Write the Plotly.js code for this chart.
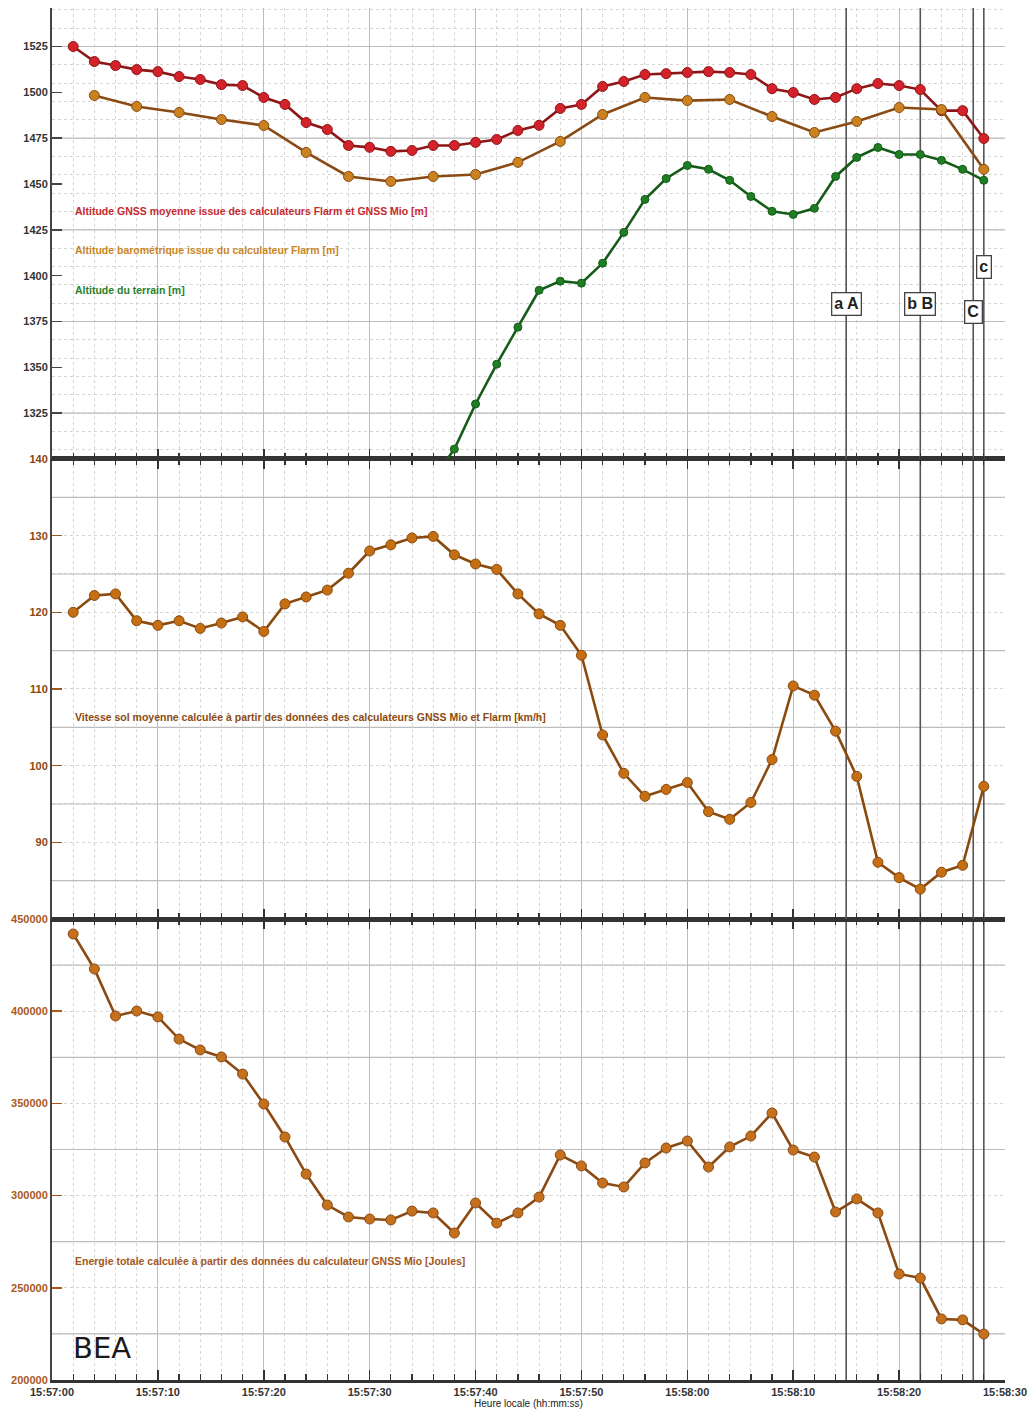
<!DOCTYPE html>
<html>
<head>
<meta charset="utf-8">
<script src="https://cdn.plot.ly/plotly-3.0.1.min.js"></script>
<style>
  html, body { margin: 0; padding: 0; background: #ffffff; }
  #chart { width: 1035px; height: 1409px; }
</style>
</head>
<body>
<div id="chart"></div>
<script>
// ---- Data ----
const times2s = ['15:57:02','15:57:04','15:57:06','15:57:08','15:57:10','15:57:12','15:57:14','15:57:16','15:57:18','15:57:20',
  '15:57:22','15:57:24','15:57:26','15:57:28','15:57:30','15:57:32','15:57:34','15:57:36','15:57:38','15:57:40',
  '15:57:42','15:57:44','15:57:46','15:57:48','15:57:50','15:57:52','15:57:54','15:57:56','15:57:58','15:58:00',
  '15:58:02','15:58:04','15:58:06','15:58:08','15:58:10','15:58:12','15:58:14','15:58:16','15:58:18','15:58:20',
  '15:58:22','15:58:24','15:58:26','15:58:28'];

const altGnss = [1525, 1516.8, 1514.6, 1512.4, 1511.3, 1508.6, 1507, 1504.2, 1503.7, 1497.2,
  1493.4, 1483.5, 1479.7, 1471, 1470, 1467.8, 1468.3, 1471, 1471, 1472.7,
  1474.3, 1479.2, 1482, 1491.2, 1493.4, 1503.2, 1505.9, 1509.7, 1510.2, 1510.8,
  1511.3, 1510.8, 1509.7, 1502, 1499.9, 1496.1, 1497.2, 1502, 1504.8, 1503.7,
  1501.5, 1490, 1490, 1474.8];

const timesBaro = ['15:57:04','15:57:08','15:57:12','15:57:16','15:57:20','15:57:24','15:57:28','15:57:32','15:57:36','15:57:40',
  '15:57:44','15:57:48','15:57:52','15:57:56','15:58:00','15:58:04','15:58:08','15:58:12','15:58:16','15:58:20',
  '15:58:24','15:58:28'];
const altBaro = [1498.3, 1492.3, 1489, 1485.2, 1481.9, 1467.2, 1454.1, 1451.4, 1454.1, 1455.2,
  1461.8, 1473.2, 1487.9, 1497.2, 1495.5, 1496.1, 1486.8, 1478.1, 1484.1, 1491.7,
  1490.6, 1458];

const timesTerrain = ['15:57:36','15:57:38','15:57:40','15:57:42','15:57:44','15:57:46','15:57:48','15:57:50','15:57:52','15:57:54',
  '15:57:56','15:57:58','15:58:00','15:58:02','15:58:04','15:58:06','15:58:08','15:58:10','15:58:12','15:58:14',
  '15:58:16','15:58:18','15:58:20','15:58:22','15:58:24','15:58:26','15:58:28'];
const altTerrain = [1289, 1305.4, 1330, 1351.7, 1371.9, 1392, 1397, 1395.9, 1406.8, 1423.6,
  1441.6, 1453, 1460.1, 1458, 1452, 1443.2, 1435.1, 1433.4, 1436.7, 1454.1,
  1464.5, 1469.9, 1466.1, 1466.1, 1462.9, 1458, 1452];

const speed = [120.0, 122.2, 122.4, 118.9, 118.3, 118.9, 117.9, 118.6, 119.4, 117.5,
  121.1, 122.0, 122.9, 125.1, 128.0, 128.8, 129.7, 129.9, 127.5, 126.3,
  125.6, 122.4, 119.8, 118.3, 114.4, 104.0, 99.0, 96.0, 96.9, 97.8,
  94.0, 93.0, 95.2, 100.8, 110.4, 109.2, 104.5, 98.6, 87.4, 85.4,
  83.9, 86.1, 87.0, 97.3];

const energy = [441900, 422900, 397400, 400100, 396900, 384900, 379000, 375200, 365900, 349700,
  331800, 311700, 294900, 288400, 287300, 286800, 291600, 290600, 279700, 296000,
  285100, 290600, 299200, 322000, 316100, 306800, 304700, 317700, 325800, 329600,
  315500, 326400, 332300, 344800, 324700, 320900, 291100, 298200, 290600, 257500,
  255300, 233100, 232600, 224900];

const eventTimes  = ['15:58:15', '15:58:22', '15:58:27', '15:58:28'];
const eventLabels = ['a A', 'b B', 'C', 'c'];

const seriesNames = {
  gnss: 'Altitude GNSS moyenne issue des calculateurs Flarm et GNSS Mio [m]',
  baro: 'Altitude barométrique issue du calculateur Flarm [m]',
  terrain: 'Altitude du terrain [m]',
  speed: 'Vitesse sol moyenne calculée à partir des données des calculateurs GNSS Mio et Flarm [km/h]',
  energy: 'Energie totale calculée à partir des données du calculateur GNSS Mio [Joules]'
};

const xRange = ['15:57:00', '15:58:30'];
const topRange = [1300, 1546];
const midRange = [80, 140];
const botRange = [200000, 450000];
const topTicks = [1325, 1350, 1375, 1400, 1425, 1450, 1475, 1500, 1525];
const midTicks = [90, 100, 110, 120, 130, 140];
const botTicks = [200000, 250000, 300000, 350000, 400000, 450000];

// ---- helpers ----
const D = t => '2000-01-01 ' + t;
const FONT = '"Liberation Sans", Arial, sans-serif';

const C = {
  red: '#d3222a', redLine: '#8e1616', redText: '#c62a2f',
  baro: '#c9821f', baroLine: '#8a4a14', baroText: '#c8861f',
  green: '#1f7d24', greenLine: '#165c18', greenText: '#2a7f2a',
  sp: '#c56f12', spLine: '#8a4a0e', spText: '#8b4a10',
  en: '#c4701c', enLine: '#8a4a14', enText: '#a4561c'
};

function tr(x, y, xa, ya, mc, lc, ms, name) {
  return {
    x: x.map(D), y: y, xaxis: xa, yaxis: ya, name: name,
    type: 'scatter', mode: 'lines+markers',
    line: { color: lc, width: 2.6 },
    marker: { color: mc, size: ms, line: { color: lc, width: 1 } },
    hoverinfo: 'x+y'
  };
}

const traces = [
  tr(times2s, altGnss, 'x3', 'y3', C.red, C.redLine, 10, seriesNames.gnss),
  tr(timesBaro, altBaro, 'x3', 'y3', C.baro, C.baroLine, 10, seriesNames.baro),
  tr(timesTerrain, altTerrain, 'x3', 'y3', C.green, C.greenLine, 8, seriesNames.terrain),
  tr(times2s, speed, 'x2', 'y2', C.sp, C.spLine, 10, seriesNames.speed),
  tr(times2s, energy, 'x', 'y', C.en, C.enLine, 10, seriesNames.energy)
];

const domBot = [0, 0.336];
const domMid = [0.336, 0.6713];
const domTop = [0.6713, 1];

function xAxis(anchor, showLabels, mirror) {
  return {
    type: 'date', anchor: anchor, range: xRange.map(D),
    dtick: 10000, tick0: D('15:57:00'), tickformat: '%H:%M:%S',
    showticklabels: showLabels,
    tickfont: { family: FONT, size: 11, color: '#333', weight: 'bold' },
    ticks: 'inside', ticklen: 10, tickwidth: 1.6, tickcolor: '#333',
    showline: true, linecolor: '#333', linewidth: 2.5, mirror: mirror,
    showgrid: true, gridcolor: '#bdbdbd', gridwidth: 1,
    zeroline: false,
    minor: { dtick: 2000, tick0: D('15:57:00'), ticks: 'inside', ticklen: 6, tickwidth: 1.3, tickcolor: '#333',
             showgrid: true, gridcolor: '#d6d6d6', griddash: 'dot', gridwidth: 1 },
    automargin: false
  };
}

function yAxis(dom, anchor, range, tickvals, color, tickcolor, m0, mdt) {
  return {
    domain: dom, range: range, anchor: anchor, tickmode: 'array', tickvals: tickvals,
    tickformat: 'd',
    ticks: 'inside', ticklen: 10, tickwidth: 1.6, tickcolor: tickcolor,
    tickfont: { family: FONT, size: 11, color: color, weight: 'bold' },
    showline: true, linecolor: '#444', linewidth: 2,
    showgrid: false, zeroline: false, automargin: false,
    minor: { tickmode: 'linear', tick0: m0, dtick: mdt, showgrid: true, gridcolor: '#d6d6d6', griddash: 'dot', gridwidth: 1, ticks: '' }
  };
}

const yTop = yAxis(domTop, 'x3', topRange, topTicks, '#333', '#444', 1305, 10);
const yMid = yAxis(domMid, 'x2', midRange, midTicks, '#8b4513', '#9a5a22', 80, 5);
const yBot = yAxis(domBot, 'x', botRange, botTicks, '#a9581c', '#a9581c', 200000, 25000);

const xBot = xAxis('y', true, 'ticks');
xBot.title = { text: 'Heure locale (hh:mm:ss)', font: { family: FONT, size: 10, color: '#222' }, standoff: 3 };
const xMid = xAxis('y2', false, 'ticks'); xMid.matches = 'x';
const xTop = xAxis('y3', false, false); xTop.matches = 'x';

const panels = [
  { xref: 'x3', yref: 'y3', range: topRange, solid0: 1325, solidStep: 50 },
  { xref: 'x2', yref: 'y2', range: midRange, solid0: 85, solidStep: 10 },
  { xref: 'x',  yref: 'y',  range: botRange, solid0: 225000, solidStep: 50000 }
];

const shapes = [];
panels.forEach(p => {
  // solid horizontal grid lines (half-way between labels), built from the axis range
  for (let v = p.solid0; v <= p.range[1]; v += p.solidStep) {
    shapes.push({ type: 'line', xref: p.xref, yref: p.yref,
      x0: D(xRange[0]), x1: D(xRange[1]), y0: v, y1: v,
      line: { color: '#bcbcbc', width: 1.2 }, layer: 'between' });
  }
  // event markers: vertical lines across the panel
  eventTimes.forEach(t => shapes.push({ type: 'line', xref: p.xref, yref: p.yref,
    x0: D(t), x1: D(t), y0: p.range[0], y1: p.range[1],
    line: { color: '#555555', width: 1.6 }, layer: 'between' }));
});

const labelY = [0.7843, 0.7843, 0.7784, 0.8112];
const annotations = eventLabels.map((lab, i) => ({
  xref: 'x', yref: 'paper', x: D(eventTimes[i]), y: labelY[i], text: '<b>' + lab + '</b>',
  showarrow: false, font: { family: FONT, size: 16, color: '#222' },
  bgcolor: '#ffffff', bordercolor: '#444', borderwidth: 1.3, borderpad: 2,
  xanchor: 'center', yanchor: 'middle'
}));

function label(text, y, color) {
  return { xref: 'paper', yref: 'paper', x: 0.0222, y: y, xanchor: 'left', yanchor: 'middle',
    text: text, showarrow: false, font: { family: FONT, size: 10.5, color: color, weight: 'bold' } };
}
annotations.push(label(seriesNames.gnss, (1380 - 211) / 1372, C.redText));
annotations.push(label(seriesNames.baro, (1380 - 250) / 1372, C.baroText));
annotations.push(label(seriesNames.terrain, (1380 - 290) / 1372, C.greenText));
annotations.push(label(seriesNames.speed, (1380 - 717) / 1372, C.spText));
annotations.push(label(seriesNames.energy, (1380 - 1261) / 1372, C.enText));
annotations.push({ xref: 'paper', yref: 'paper', x: 0.02, y: (1380 - 1348) / 1372, xanchor: 'left', yanchor: 'middle',
  text: 'BEA', showarrow: false, font: { family: '"DejaVu Sans", sans-serif', size: 29, color: '#1a1a1a' } });

const layout = {
  width: 1035, height: 1409,
  margin: { l: 52, r: 30, t: 8, b: 29 },
  paper_bgcolor: '#ffffff', plot_bgcolor: '#ffffff',
  showlegend: false,
  font: { family: FONT, size: 11, color: '#333' },
  xaxis: xBot, xaxis2: xMid, xaxis3: xTop,
  yaxis: yBot, yaxis2: yMid, yaxis3: yTop,
  shapes: shapes, annotations: annotations
};

Plotly.newPlot('chart', traces, layout, { displayModeBar: false, staticPlot: true });
</script>
</body>
</html>
